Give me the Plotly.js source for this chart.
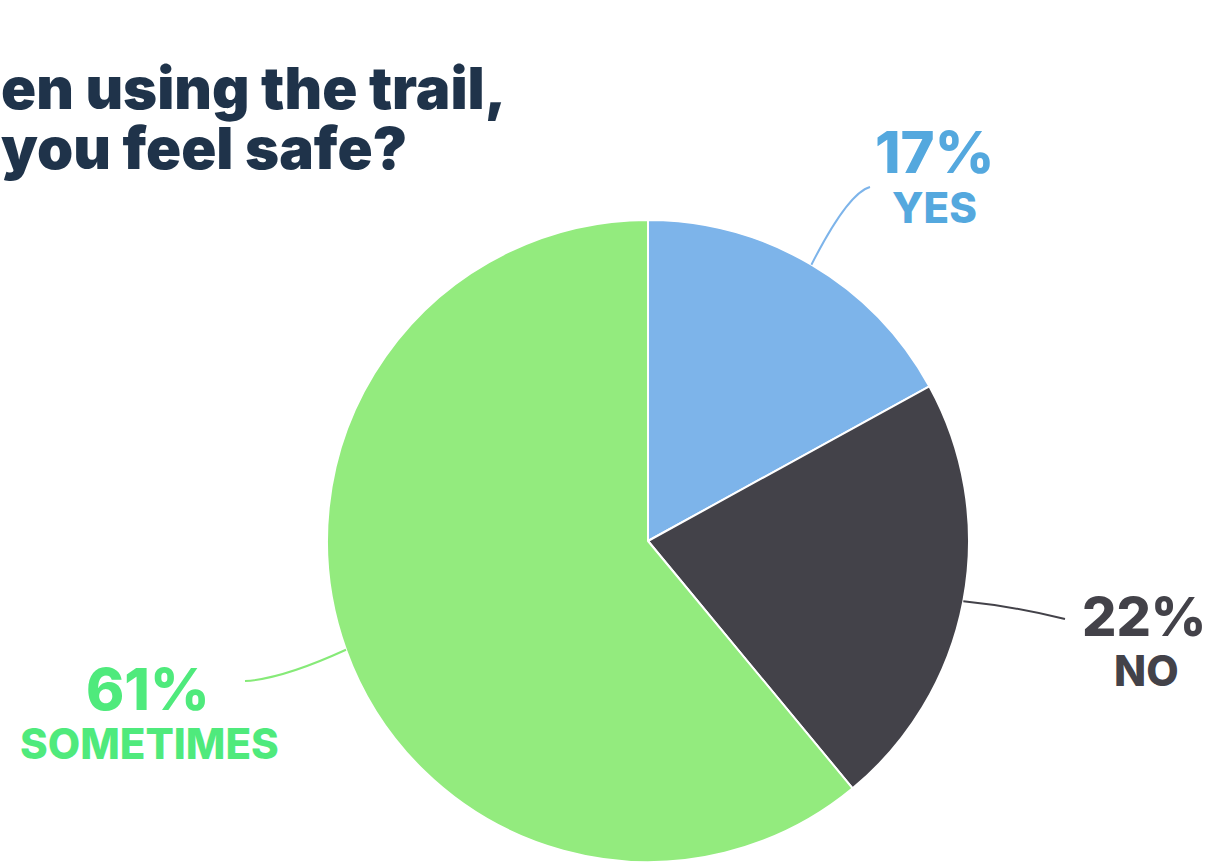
<!DOCTYPE html>
<html>
<head>
<meta charset="utf-8">
<script src="https://cdn.plot.ly/plotly-3.0.1.min.js"></script>
<style>
html,body{margin:0;padding:0;background:#fff;overflow:hidden;}
#chart{width:1206px;height:862px;}
</style>
</head>
<body>
<div id="chart"></div>
<script>
// ---- data ----
var categories = ["YES", "NO", "SOMETIMES"];
var values = [17, 22, 61];
var pctLabels = ["17%", "22%", "61%"];
// title as visible in the (left-cropped) reference
var titleLines = ["en using the trail,", "you feel safe?"];

// ---- style ----
var sliceColors = ["#7DB4EA", "#434249", "#93EB7E"];
var textColors = ["#54A8DE", "#434249", "#4FEA7C"];
var lineColors = ["#7DB4EA", "#434249", "#86EA78"];
var W = 1206, H = 862;
var cx = 648, cy = 541, R = 321;

function px(x){ return x / W; }
function py(y){ return (H - y) / H; }

// label layout (pixel positions, per category)
var labelPos = [
  {pct:[934,152], name:[934,207], end:[870,187], ctrl:[848,193], pctSize:58},
  {pct:[1144,616], name:[1146,670], end:[1065,619], ctrl:[1012,606], pctSize:54},
  {pct:[148,689], name:[149,743], end:[245,681], ctrl:[282,679], pctSize:58}
];

var total = values.reduce(function(a,b){return a+b;},0);
var annotations = [];
var shapes = [];
var cum = 0;
for (var i = 0; i < values.length; i++) {
  var mid = (cum + values[i] / 2) / total * 2 * Math.PI; // clockwise from top
  cum += values[i];
  var ax = cx + R * Math.sin(mid);
  var ay = cy - R * Math.cos(mid);
  var L = labelPos[i];
  shapes.push({
    type: 'path', xref: 'paper', yref: 'paper',
    path: 'M ' + px(ax) + ',' + py(ay) + ' Q ' + px(L.ctrl[0]) + ',' + py(L.ctrl[1]) + ' ' + px(L.end[0]) + ',' + py(L.end[1]),
    line: {color: lineColors[i], width: 2}
  });
  annotations.push({
    xref:'paper', yref:'paper', x:px(L.pct[0]), y:py(L.pct[1]),
    xanchor:'center', yanchor:'middle', showarrow:false, borderpad:0,
    text: pctLabels[i],
    font:{family:'Inter, Roboto, sans-serif', size:L.pctSize, color:textColors[i], weight:800}
  });
  annotations.push({
    xref:'paper', yref:'paper', x:px(L.name[0]), y:py(L.name[1]),
    xanchor:'center', yanchor:'middle', showarrow:false, borderpad:0,
    text: categories[i],
    font:{family:'Inter, Roboto, sans-serif', size:42, color:textColors[i], weight:800}
  });
}

// title lines
var titlePos = [[0, 88], [0, 148]];
for (var j = 0; j < titleLines.length; j++) {
  annotations.push({
    xref:'paper', yref:'paper', x:px(titlePos[j][0]), y:py(titlePos[j][1]),
    xanchor:'left', yanchor:'middle', showarrow:false, borderpad:0,
    text: titleLines[j],
    font:{family:'Inter, Roboto, sans-serif', size:58, color:'#1F334A', weight:900}
  });
}

var trace = {
  type: 'pie',
  labels: categories,
  values: values,
  sort: false,
  direction: 'clockwise',
  rotation: 0,
  textinfo: 'none',
  hoverinfo: 'label+percent',
  marker: {colors: sliceColors, line: {color: '#FFFFFF', width: 2}},
  domain: {x: [px(cx - R), px(cx + R)], y: [py(cy + R), py(cy - R)]}
};

var layout = {
  width: W, height: H,
  margin: {l:0, r:0, t:0, b:0},
  paper_bgcolor: '#FFFFFF',
  showlegend: false,
  annotations: annotations,
  shapes: shapes
};

Plotly.newPlot('chart', [trace], layout, {displayModeBar:false, staticPlot:true});
</script>
</body>
</html>
